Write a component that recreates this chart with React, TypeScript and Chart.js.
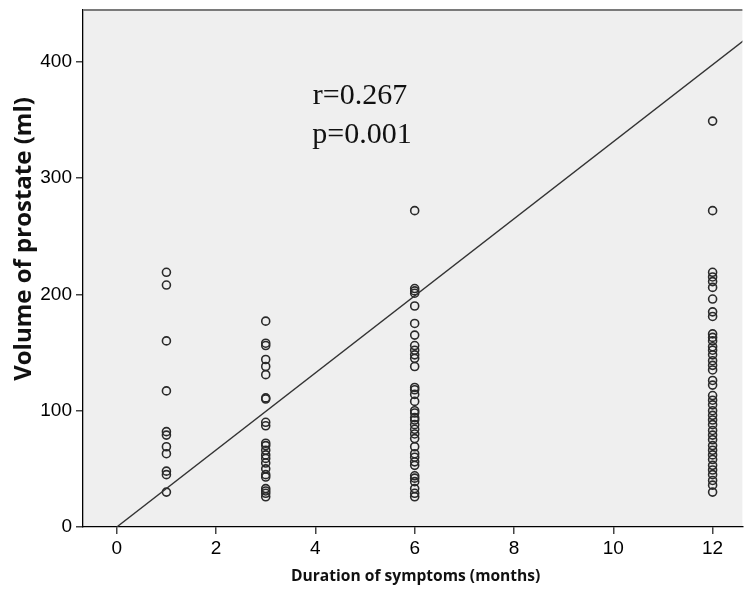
import React, { useEffect, useRef } from "react";
import { Chart, registerables } from "chart.js";

Chart.register(...registerables);

const durations = [1, 3, 6, 12];
const vol1 = [219, 208, 160, 117, 82, 79, 69, 63, 48, 45, 30];
const vol3 = [177, 158, 156, 144, 138, 131, 111, 110, 90, 87, 72, 70, 66, 62, 59, 55, 50, 45, 43, 33, 31, 29, 26];
const vol6 = [272, 205, 203, 201, 190, 175, 165, 156, 152, 148, 145, 138, 120, 118, 114, 108, 100, 98, 94, 92, 88, 84, 80, 76, 69, 63, 60, 56, 53, 44, 42, 39, 33, 29, 26];
const vol12 = [349, 272, 219, 215, 211, 206, 196, 185, 181, 166, 163, 160, 155, 152, 148, 143, 139, 135, 126, 122, 113, 109, 105, 100, 96, 92, 88, 83, 79, 75, 70, 66, 62, 58, 53, 49, 45, 40, 36, 30];
const fitX = [0, 12.62];
const fitY = [0, 418];
const xTicks = [0, 2, 4, 6, 8, 10, 12];
const yTicks = [0, 100, 200, 300, 400];
const statLines = ["r=0.267", "p=0.001"];
const xTitle = "Duration of symptoms (months)";
const yTitle = "Volume of prostate (ml)";

const groups = [vol1, vol3, vol6, vol12];

export default function App() {
  const ref = useRef<HTMLCanvasElement>(null);
  useEffect(() => {
    document.body.style.margin = "0";
    const points: { x: number; y: number }[] = [];
    groups.forEach((g, i) => g.forEach((v) => points.push({ x: durations[i], y: v })));
    const fit = fitX.map((x, i) => ({ x, y: fitY[i] }));

    const deco = {
      id: "deco",
      beforeDraw(chart: any) {
        const { ctx, chartArea: a } = chart;
        ctx.save();
        ctx.fillStyle = "#efefef";
        ctx.fillRect(a.left, a.top, a.right - a.left, a.bottom - a.top);
        ctx.restore();
      },
      afterDraw(chart: any) {
        const { ctx, chartArea: a } = chart;
        ctx.save();
        ctx.strokeStyle = "#7a7a7a";
        ctx.lineWidth = 2;
        ctx.beginPath();
        ctx.moveTo(a.left, a.top);
        ctx.lineTo(a.right, a.top);
        ctx.stroke();
        ctx.fillStyle = "#111";
        ctx.font = "30px 'Liberation Serif', serif";
        ctx.textAlign = "center";
        ctx.textBaseline = "alphabetic";
        ctx.fillText(statLines[0], 360, 104);
        ctx.fillText(statLines[1], 362, 143);
        ctx.font = "bold 15.6px 'Open Sans', sans-serif";
        ctx.textBaseline = "middle";
        ctx.fillText(xTitle, (a.left + a.right) / 2 + 3, 577);
        ctx.translate(24, 239);
        ctx.rotate(-Math.PI / 2);
        ctx.font = "bold 24px 'Open Sans', sans-serif";
        ctx.fillText(yTitle, 0, 0);
        ctx.restore();
      },
    };

    const chart = new Chart(ref.current!, {
      type: "scatter",
      data: {
        datasets: [
          {
            type: "line",
            data: fit,
            borderColor: "#333",
            borderWidth: 1.4,
            pointRadius: 0,
            fill: false,
          } as any,
          {
            data: points,
            pointRadius: 4,
            pointBorderWidth: 1.6,
            pointBorderColor: "#2a2a2a",
            pointBackgroundColor: "rgba(0,0,0,0)",
          },
        ],
      },
      options: {
        animation: false,
        responsive: false,
        layout: { padding: { top: 10, left: 0, right: 0, bottom: 0 } },
        plugins: { legend: { display: false }, tooltip: { enabled: false } },
        scales: {
          x: {
            type: "linear",
            min: -0.68,
            max: 12.6,
            afterFit: (s: any) => { s.height = 65; s.paddingLeft = 0; s.paddingRight = 0; },
            afterBuildTicks: (s: any) => { s.ticks = xTicks.map((v) => ({ value: v })); },
            ticks: { color: "#000", font: { family: "'Liberation Sans', Arial", size: 19 }, padding: 3, includeBounds: false },
            grid: { drawOnChartArea: false, drawTicks: true, tickLength: 7, color: "#444", lineWidth: 1.5 },
            border: { display: true, color: "#000", width: 1.3 },
          },
          y: {
            type: "linear",
            min: 0,
            max: 444.5,
            afterFit: (s: any) => { s.width = 83; s.paddingTop = 0; s.paddingBottom = 0; },
            afterBuildTicks: (s: any) => { s.ticks = yTicks.map((v) => ({ value: v })); },
            ticks: { color: "#000", font: { family: "'Liberation Sans', Arial", size: 19 }, padding: 4, includeBounds: false },
            grid: { drawOnChartArea: false, drawTicks: true, tickLength: 7, color: "#444", lineWidth: 1.5 },
            border: { display: true, color: "#000", width: 1.3 },
          },
        },
      },
      plugins: [deco],
    });
    return () => chart.destroy();
  }, []);
  return (
    <div style={{ width: 748, height: 592, background: "#fff" }}>
      <canvas ref={ref} width={748} height={592} style={{ display: "block" }} />
    </div>
  );
}
